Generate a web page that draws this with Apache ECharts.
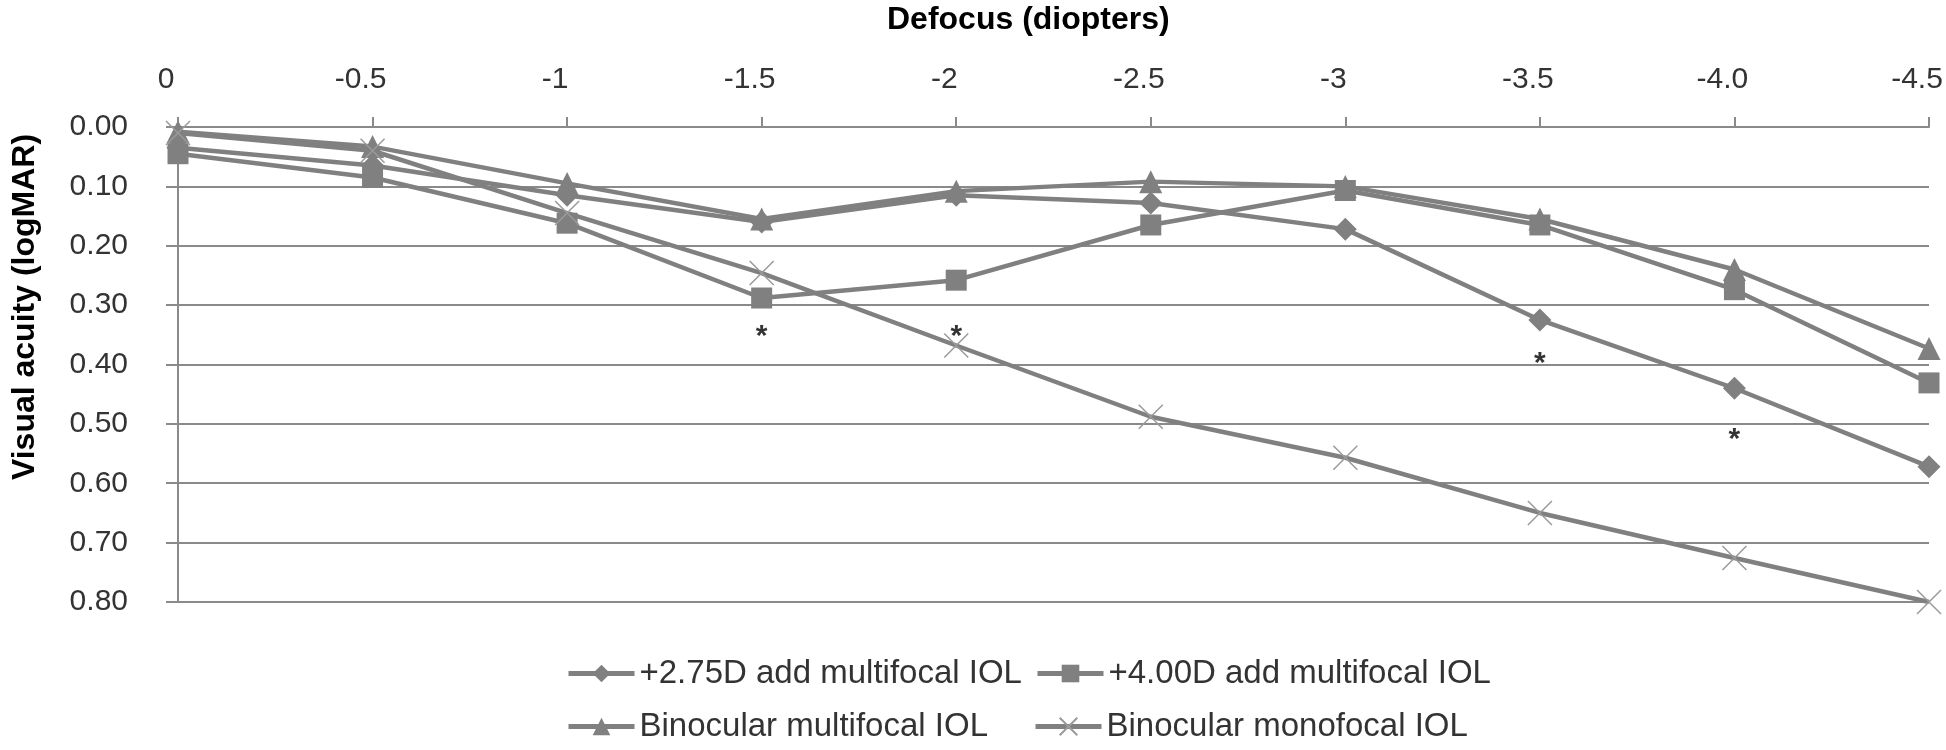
<!DOCTYPE html>
<html>
<head>
<meta charset="utf-8">
<script src="https://cdn.jsdelivr.net/npm/echarts@6/dist/echarts.min.js"></script>
<style>
html,body{margin:0;padding:0;background:#fff;}
#chart{width:1946px;height:750px;}
</style>
</head>
<body>
<div id="chart"></div>
<script>
// Data
var defocusLabels = ['0', '-0.5', '-1', '-1.5', '-2', '-2.5', '-3', '-3.5', '-4.0', '-4.5'];
var add275 = [0.035, 0.065, 0.115, 0.160, 0.115, 0.128, 0.172, 0.325, 0.440, 0.572];
var add400 = [0.045, 0.085, 0.162, 0.288, 0.258, 0.165, 0.107, 0.165, 0.274, 0.431];
var binoMulti = [0.008, 0.033, 0.095, 0.155, 0.108, 0.092, 0.100, 0.155, 0.240, 0.373];
var binoMono = [0.010, 0.040, 0.145, 0.246, 0.368, 0.488, 0.557, 0.650, 0.726, 0.800];
var seriesNames = ['+2.75D add multifocal IOL', '+4.00D add multifocal IOL', 'Binocular multifocal IOL', 'Binocular monofocal IOL'];
var asteriskPoints = [['-1.5', 0.353], ['-2', 0.353], ['-3.5', 0.398], ['-4.0', 0.526]];
var yTicks = { min: 0, max: 0.8, interval: 0.1 };

var FONT = '"Liberation Sans", Arial, sans-serif';
var GREY = '#808080';
var AXIS = '#8a8a8a';

var chart = echarts.init(document.getElementById('chart'), null, { renderer: 'canvas' });

function lineSeries(name, data, symbol, size, itemStyle) {
  return {
    name: name, type: 'line', data: data,
    symbol: symbol, symbolSize: size, showSymbol: true,
    lineStyle: { color: GREY, width: 4.5 },
    itemStyle: itemStyle,
    color: GREY,
    animation: false, z: 3
  };
}

function legendAt(name, left, top) {
  return {
    data: [name], left: left, top: top, padding: 0,
    itemWidth: 66, itemHeight: 22, itemGap: 0,
    lineStyle: { width: 5, color: GREY },
    textStyle: { fontFamily: FONT, fontSize: 33, color: '#333' }
  };
}

var option = {
  animation: false,
  backgroundColor: '#fff',
  grid: { left: 178, right: 17, top: 127, bottom: 148 },
  xAxis: {
    type: 'category', position: 'top', boundaryGap: false,
    data: defocusLabels,
    axisLine: { show: true, lineStyle: { color: AXIS, width: 2 } },
    axisTick: { show: true, length: 10, inside: false, lineStyle: { color: AXIS, width: 2 } },
    axisLabel: { fontFamily: FONT, fontSize: 30, color: '#333', margin: 32,
      padding: [0, 24, 0, 0] },
    splitLine: { show: false }
  },
  yAxis: {
    type: 'value', inverse: true,
    min: yTicks.min, max: yTicks.max, interval: yTicks.interval,
    axisLine: { show: true, lineStyle: { color: AXIS, width: 2 } },
    axisTick: { show: true, length: 12, lineStyle: { color: AXIS, width: 2 } },
    axisLabel: { fontFamily: FONT, fontSize: 30, color: '#333', margin: 50,
      formatter: function (v) { return v.toFixed(2); } },
    splitLine: { show: true, lineStyle: { color: AXIS, width: 2 } }
  },
  legend: [
    legendAt(seriesNames[0], 566, 657),
    legendAt(seriesNames[1], 1035, 657),
    legendAt(seriesNames[2], 566, 710),
    legendAt(seriesNames[3], 1033, 710)
  ],
  graphic: [
    { type: 'text', left: 1028 - 141, top: 4,
      style: { text: 'Defocus (diopters)', font: 'bold 32px ' + FONT, fill: '#000' } },
    { type: 'text', x: 25, y: 307, rotation: Math.PI / 2,
      style: { text: 'Visual acuity (logMAR)', font: 'bold 32px ' + FONT, fill: '#000',
        align: 'center', verticalAlign: 'middle' } }
  ],
  series: [
    lineSeries(seriesNames[0], add275, 'diamond', 23, { color: GREY }),
    lineSeries(seriesNames[1], add400, 'rect', 21, { color: GREY }),
    lineSeries(seriesNames[2], binoMulti, 'triangle', 23, { color: GREY }),
    lineSeries(seriesNames[3], binoMono, 'path://M0,0L10,10M10,0L0,10', 24,
      { color: 'transparent', borderColor: '#9a9a9a', borderWidth: 1.5 }),
    {
      name: 'significance', type: 'scatter', data: asteriskPoints,
      symbol: 'circle', symbolSize: 1, itemStyle: { color: 'transparent' },
      label: { show: true, position: 'inside', formatter: '*', fontFamily: FONT,
        fontSize: 30, fontWeight: 'bold', color: '#000' },
      silent: true, z: 5
    }
  ]
};
chart.setOption(option);
</script>
</body>
</html>
